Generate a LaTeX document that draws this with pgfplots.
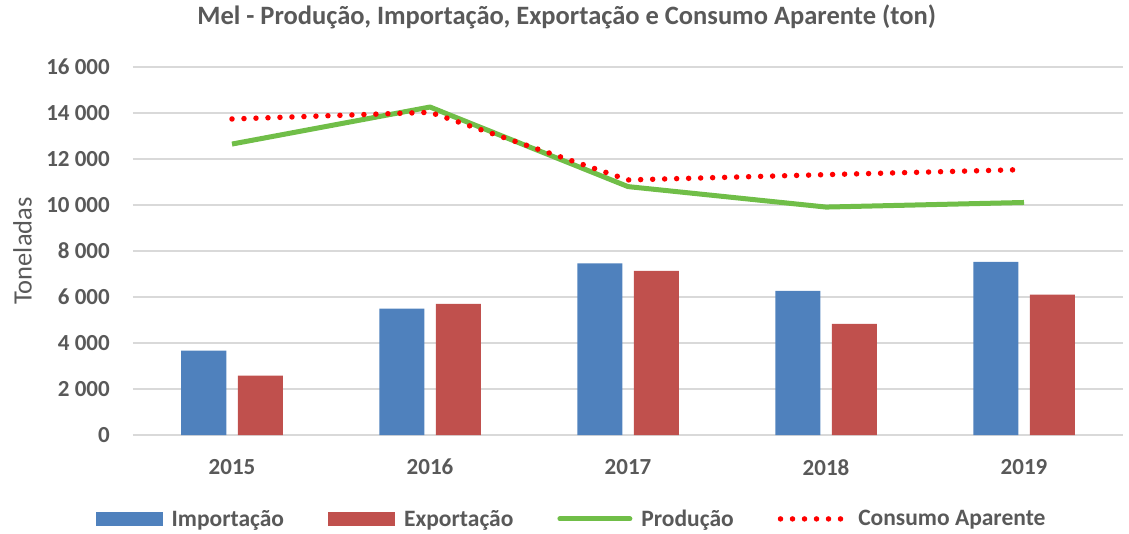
\documentclass[border=0pt]{standalone}
\usepackage{fontspec}
\setmainfont{Carlito}
\usepackage{pgfplots}
\pgfplotsset{compat=1.18}
\definecolor{txt}{HTML}{595959}
\definecolor{gridc}{HTML}{D9D9D9}
\definecolor{cblue}{HTML}{4F81BD}
\definecolor{cred}{HTML}{C0504D}
\definecolor{cgreen}{RGB}{112,190,72}
\begin{document}
\begin{tikzpicture}
\begin{axis}[name=ax, scale only axis, width=990pt, height=368pt,
  xmin=-0.5, xmax=4.5, ymin=0, ymax=16000,
  xtick={0,1,2,3,4}, xticklabels={2015,2016,2017,2018,2019},
  ytick={0,2000,4000,6000,8000,10000,12000,14000,16000},
  scaled y ticks=false,
  /pgf/number format/1000 sep={\ },
  /pgf/number format/assume math mode=true,
  ymajorgrids, grid style={draw=gridc, line width=1.5pt},
  axis line style={draw=none}, major tick length=0pt,
  tick label style={font=\fontsize{23}{27}\selectfont\bfseries, text=txt},
  yticklabel style={anchor=east, inner sep=0pt, xshift=-23pt},
  xticklabel style={anchor=north, inner sep=0pt, yshift=-24pt},
  title={Mel - Produção, Importação, Exportação e Consumo Aparente (ton)},
  title style={at={(0.438,1.12)}, anchor=center, inner sep=0pt, font=\fontsize{26.5}{30}\selectfont\bfseries, text=txt},
  legend columns=4,
  legend style={at={(0.444,-0.228)}, anchor=center, draw=none, fill=none,
    font=\fontsize{23.5}{28}\selectfont\bfseries, text=txt,
    /tikz/every even column/.append style={column sep=40pt},
    /tikz/every odd column/.append style={column sep=5pt},
    nodes={inner sep=4pt}},
]
\addplot[ybar, bar width=45pt, bar shift=-28.25pt, fill=cblue, draw=none,
  legend image code/.code={\fill[cblue] (0pt,-7pt) rectangle (67pt,7pt);}]
  coordinates {(0,3670) (1,5490) (2,7460) (3,6270) (4,7530)};
\addlegendentry{Importação}
\addplot[ybar, bar width=45pt, bar shift=28.25pt, fill=cred, draw=none,
  legend image code/.code={\fill[cred] (0pt,-7pt) rectangle (67pt,7pt);}]
  coordinates {(0,2580) (1,5700) (2,7140) (3,4830) (4,6100)};
\addlegendentry{Exportação}
\addplot[cgreen, line width=5pt, line join=round, mark=none,
  legend image code/.code={\draw[cgreen, line width=5pt, line cap=round] (0pt,0pt) -- (70pt,0pt);}]
  coordinates {(0,12650) (1,14260) (2,10800) (3,9910) (4,10110)};
\addlegendentry{Produção}
\addplot[red, line width=5.5pt, line cap=round, dash pattern=on 0pt off 12pt, mark=none,
  legend image code/.code={\draw[red, line width=5.5pt, line cap=round, dash pattern=on 0pt off 12pt] (0pt,0pt) -- (66pt,0pt);}]
  coordinates {(0,13740) (1,14030) (2,11090) (3,11320) (4,11540)};
\addlegendentry{Consumo Aparente}
\end{axis}
\node[rotate=90, anchor=south, inner sep=0pt, text=txt, font=\fontsize{26.5}{30}\selectfont] at ([xshift=-101pt]ax.west) {Toneladas};
\pgfresetboundingbox
\path ([xshift=-133pt,yshift=-98pt]ax.south west) rectangle ([xshift=6pt,yshift=67pt]ax.north east);
\end{tikzpicture}
\end{document}
